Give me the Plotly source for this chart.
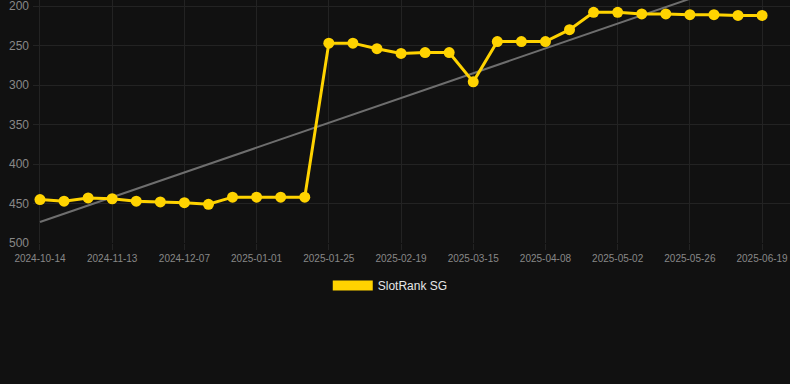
import numpy as np
import plotly.graph_objects as go

dates = ["2024-10-14", "2024-10-24", "2024-11-03", "2024-11-13", "2024-11-21", "2024-11-29",
         "2024-12-07", "2024-12-15", "2024-12-23", "2025-01-01", "2025-01-09", "2025-01-17",
         "2025-01-25", "2025-02-02", "2025-02-10", "2025-02-19", "2025-02-27", "2025-03-07",
         "2025-03-15", "2025-03-23", "2025-03-31", "2025-04-08", "2025-04-16", "2025-04-24",
         "2025-05-02", "2025-05-10", "2025-05-18", "2025-05-26", "2025-06-03", "2025-06-11",
         "2025-06-19"]
ranks = [445, 447, 443, 444, 447, 448, 449, 451, 442, 442, 442, 442,
         247, 247, 254, 260, 259, 259, 296, 245, 245, 245, 230,
         208, 208, 210, 210, 211, 211, 212, 212]
tick_labels = dates[::3]
series_name = "SlotRank SG"

idx = np.arange(len(ranks))
slope, intercept = np.polyfit(idx, ranks, 1)
trend = slope * idx + intercept

gold = "#FFD300"
fig = go.Figure()
fig.add_trace(go.Scatter(x=dates, y=trend, mode="lines",
                         line=dict(color="#6e6e6e", width=2),
                         showlegend=False, hoverinfo="skip"))
fig.add_trace(go.Scatter(x=dates, y=ranks, mode="lines+markers",
                         line=dict(color=gold, width=3),
                         marker=dict(color=gold, size=11),
                         showlegend=False))
fig.add_trace(go.Scatter(x=[None], y=[None], mode="lines", name=series_name,
                         line=dict(color=gold, width=10), showlegend=True))

fig.update_layout(
    width=790, height=384,
    paper_bgcolor="#111111", plot_bgcolor="#111111",
    margin=dict(l=33, r=0, t=0, b=141),
    font=dict(family="Liberation Sans, Arial, sans-serif", color="#888888"),
    legend=dict(orientation="h", xref="container", x=0.494, xanchor="center",
                yref="container", y=0.294, yanchor="top",
                font=dict(size=12, color="#e6e6e6"), itemwidth=40,
                bgcolor="rgba(0,0,0,0)"),
    xaxis=dict(type="category", range=[-0.29, 31.16],
               tickmode="array", tickvals=tick_labels, ticktext=tick_labels,
               tickfont=dict(size=10, color="#888888"),
               showgrid=True, gridcolor="#232323", gridwidth=1,
               showline=False, zeroline=False, ticks="outside", ticklen=6,
               tickcolor="#232323", ticklabeloverflow="allow"),
    yaxis=dict(range=[500, 192.4], tickvals=[200, 250, 300, 350, 400, 450, 500],
               tickfont=dict(size=12, color="#888888"),
               showgrid=True, gridcolor="#232323", gridwidth=1,
               zeroline=False, showline=False, ticks="", ticklabelstandoff=3,
               ticklabeloverflow="allow"),
)

fig.write_html("out.html", config={"displayModeBar": False},
               post_script="document.body.style.margin='0';document.body.style.background='#111111';")
